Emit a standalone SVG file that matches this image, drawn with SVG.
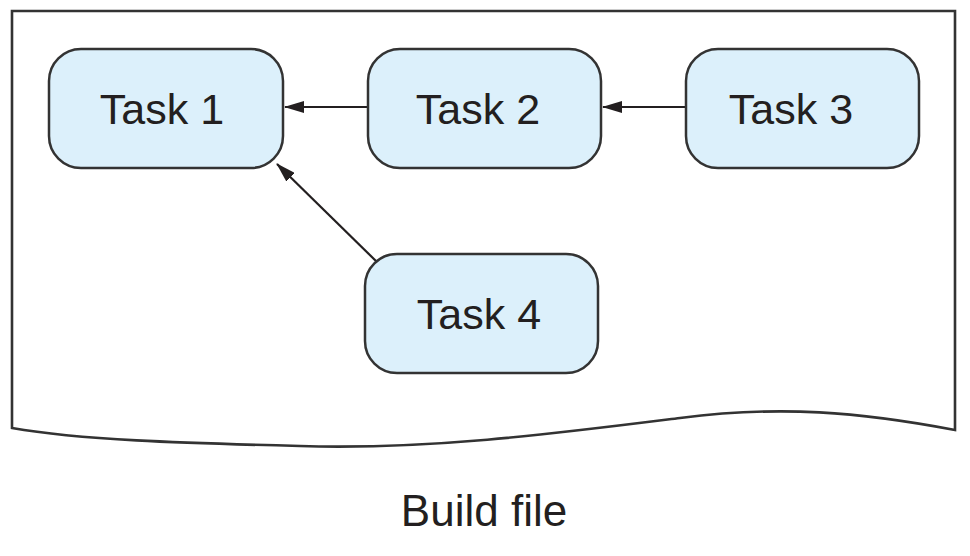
<svg xmlns="http://www.w3.org/2000/svg" width="970" height="556" viewBox="0 0 970 556">
<style>
.node rect{fill:#dcf0fb;stroke:#333;stroke-width:2.5}
.node text,.label{font-family:"Liberation Sans",Arial,sans-serif;font-size:43px;fill:#231f20;text-anchor:middle}
.conn line{stroke:#231f20;stroke-width:2.2;marker-end:url(#ah)}
</style>
<defs>
<marker id="ah" markerWidth="20" markerHeight="12" refX="19" refY="6" orient="auto" markerUnits="userSpaceOnUse">
<path d="M0,0 L20,6 L0,12 Z" fill="#231f20"/>
</marker>
</defs>
<g id="frame">
<path d="M12,428 L12,11 L955,11 L955,430 C860,412 780,405 680,418 C560,433 430,450 300,446 C180,443 80,440 12,428 Z" fill="#fff" stroke="#333" stroke-width="2.6"/>
</g>
<g class="conn" id="connectors">
<line x1="368" y1="107" x2="285" y2="107"/>
<line x1="686" y1="107" x2="603" y2="107"/>
<line x1="377" y1="262" x2="277" y2="164"/>
</g>
<g class="node" id="task1"><rect x="49" y="49" width="234" height="119" rx="32"/><text x="162" y="124">Task 1</text></g>
<g class="node" id="task2"><rect x="368" y="49" width="233" height="119" rx="32"/><text x="478" y="124">Task 2</text></g>
<g class="node" id="task3"><rect x="686" y="49" width="233" height="119" rx="32"/><text x="791" y="124">Task 3</text></g>
<g class="node" id="task4"><rect x="365" y="254" width="233" height="119" rx="32"/><text x="479" y="329">Task 4</text></g>
<text class="label" x="484" y="526" style="font-size:44px">Build file</text>
</svg>
